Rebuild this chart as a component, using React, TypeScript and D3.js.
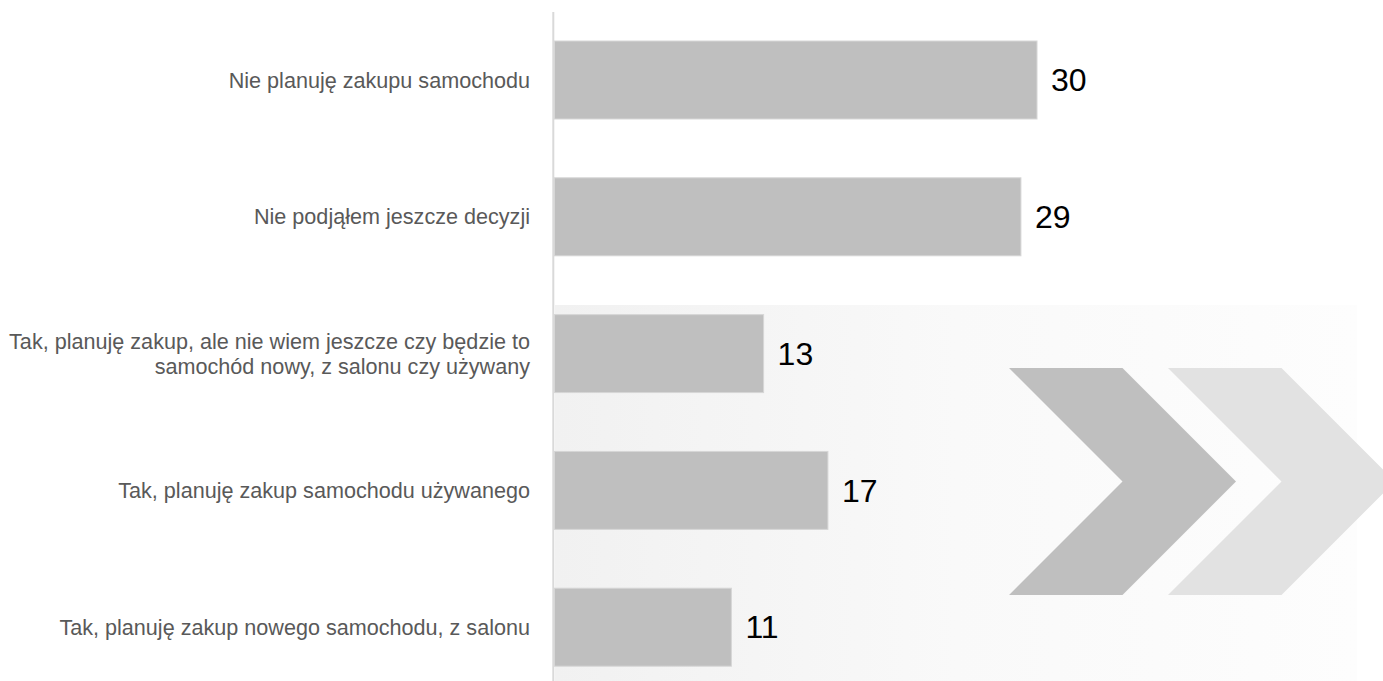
import React from "react";
import * as d3 from "d3";

const categories: string[] = [
  "Nie planuję zakupu samochodu",
  "Nie podjąłem jeszcze decyzji",
  "Tak, planuję zakup, ale nie wiem jeszcze czy będzie to\nsamochód nowy, z salonu czy używany",
  "Tak, planuję zakup samochodu używanego",
  "Tak, planuję zakup nowego samochodu, z salonu",
];
const values: number[] = [30, 29, 13, 17, 11];

const W = 1383;
const H = 681;
const FONT = "Arial, 'Liberation Sans', Helvetica, sans-serif";

// decorative chevron geometry
const chevron = (x0: number, y0: number, arm: number, h: number) => {
  const half = h / 2;
  return [
    [x0, y0],
    [x0 + arm, y0],
    [x0 + arm + half, y0 + half],
    [x0 + arm, y0 + h],
    [x0, y0 + h],
    [x0 + half, y0 + half],
  ]
    .map((p) => p.join(","))
    .join(" ");
};

export default function App() {
  const x = d3.scaleLinear().domain([0, 30]).range([554.5, 1037]);
  const y = d3
    .scaleBand<number>()
    .domain(d3.range(categories.length))
    .range([11.6, 695.6])
    .paddingInner(0.43)
    .paddingOuter(0.215);

  return (
    <svg
      width={W}
      height={H}
      style={{ position: "fixed", left: 0, top: 0, display: "block", background: "#ffffff" }}
    >
      <defs>
        <linearGradient id="panelGrad" x1="0" x2="1" y1="0" y2="0">
          <stop offset="0" stopColor="#f1f1f1" />
          <stop offset="0.5" stopColor="#f9f9f9" />
          <stop offset="1" stopColor="#fdfdfd" />
        </linearGradient>
      </defs>
      <rect x={555} y={305} width={802} height={H - 305} fill="url(#panelGrad)" />
      <polygon points={chevron(1009, 368, 113.5, 227)} fill="#bfbfbf" />
      <polygon points={chevron(1168, 368, 113.5, 227)} fill="#e2e2e2" />
      <line x1={553.3} x2={553.3} y1={12} y2={H} stroke="#d9d9d9" strokeWidth={2} />
      {values.map((v, i) => {
        const by = y(i)!;
        const bh = y.bandwidth();
        const cy = by + bh / 2;
        const lines = categories[i].split("\n");
        const lh = 25;
        return (
          <g key={i}>
            <rect
              x={x(0)}
              y={by}
              width={x(v) - x(0)}
              height={bh}
              fill="#bfbfbf"
              stroke="#d6d6d6"
              strokeWidth={1}
            />
            <text
              x={x(v) + 14}
              y={cy}
              dy="0.35em"
              fontFamily={FONT}
              fontSize={32}
              fill="#000000"
            >
              {v}
            </text>
            <text textAnchor="end" fontFamily={FONT} fontSize={21.6} fill="#595959">
              {lines.map((l, j) => (
                <tspan
                  key={j}
                  x={530}
                  y={cy + (j - (lines.length - 1) / 2) * lh}
                  dy="0.35em"
                >
                  {l}
                </tspan>
              ))}
            </text>
          </g>
        );
      })}
    </svg>
  );
}
